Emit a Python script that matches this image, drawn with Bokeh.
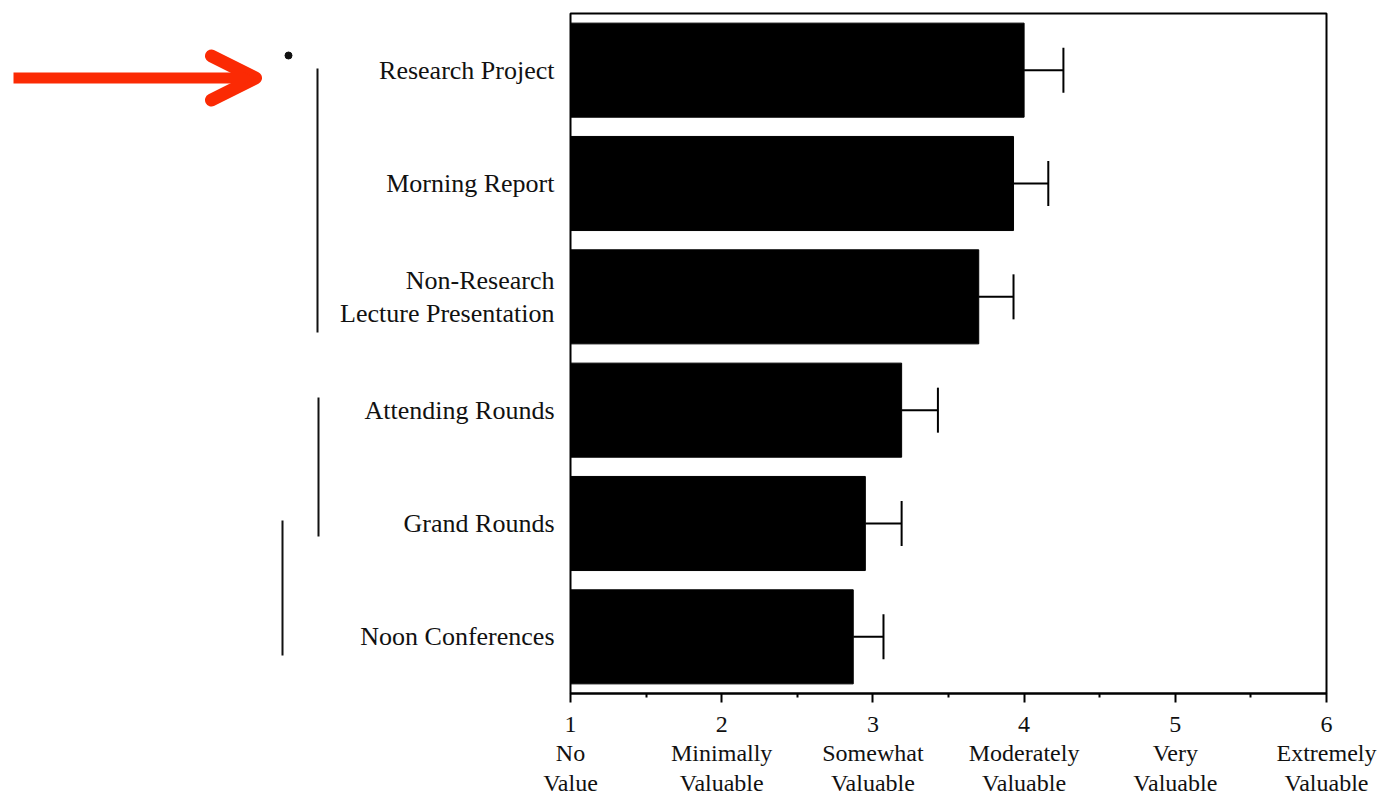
from bokeh.plotting import figure
from bokeh.layouts import row
from bokeh.models import (ColumnDataSource, FactorRange, Range1d, FixedTicker,
                          Whisker, TeeHead, Arrow, OpenHead)
from bokeh.embed import file_html
from bokeh.resources import INLINE

# Mean perceived value of each teaching activity (top to bottom) with SEM
activities = ["Research Project", "Morning Report", "Non-Research\nLecture Presentation",
              "Attending Rounds", "Grand Rounds", "Noon Conferences"]
mean_value = [4.00, 3.93, 3.70, 3.19, 2.95, 2.87]
sem_value = [0.26, 0.23, 0.23, 0.24, 0.24, 0.20]

scale_ticks = [1, 2, 3, 4, 5, 6]
scale_labels = ["No\nValue", "Minimally\nValuable", "Somewhat\nValuable",
                "Moderately\nValuable", "Very\nValuable", "Extremely\nValuable"]

SERIF = "Liberation Serif"
INK = "#111111"
POINTER_RED = "#fb2a04"

W, H = 1381, 799
MARGIN_W = 330                      # left panel holding the margin marks
FRAME_L, FRAME_T, FRAME_W, FRAME_H = 570, 13, 756, 680

# ---------------------------------------------------------------- left margin
# The row aligns this panel's frame with the chart frame, so its y range is
# expressed in page pixels over the frame's vertical extent.
margin = figure(width=MARGIN_W, height=H,
                x_range=Range1d(0, MARGIN_W),
                y_range=Range1d(FRAME_T + FRAME_H, FRAME_T),
                x_axis_location=None, y_axis_location=None,
                output_backend="svg", toolbar_location=None, min_border=0)
margin.outline_line_color = None
margin.grid.visible = False
margin.background_fill_color = "white"
margin.border_fill_color = "white"

# significance brackets
margin.segment(x0=[317, 318, 282], y0=[68, 397, 520],
               x1=[317, 318, 282], y1=[332, 536, 655],
               line_color=INK, line_width=2)
margin.scatter(x=[288], y=[55], size=7, color=INK)

# red pointer
margin.add_layout(Arrow(x_start=13, y_start=77.5, x_end=255, y_end=77.5,
                        line_color=POINTER_RED, line_width=11,
                        end=OpenHead(size=44, line_color=POINTER_RED, line_width=13,
                                     line_cap="round", line_join="round")))

# ---------------------------------------------------------------- bar chart
source = ColumnDataSource(dict(
    activity=activities,
    mean=mean_value,
    upper=[m + s for m, s in zip(mean_value, sem_value)],
))

p = figure(
    width=W - MARGIN_W, height=H,
    x_range=Range1d(scale_ticks[0], scale_ticks[-1]),
    y_range=FactorRange(factors=activities[::-1]),
    output_backend="svg", toolbar_location=None,
    min_border_left=FRAME_L - MARGIN_W, min_border_top=FRAME_T,
    min_border_right=W - FRAME_L - FRAME_W,
    min_border_bottom=H - FRAME_T - FRAME_H,
)
p.background_fill_color = "white"
p.border_fill_color = "white"
p.outline_line_color = "black"
p.outline_line_width = 2
p.xgrid.visible = False
p.ygrid.visible = False

p.hbar(y="activity", left=scale_ticks[0], right="mean", height=0.83,
       source=source, fill_color="black", line_color="black")

p.add_layout(Whisker(
    base="activity", lower="mean", upper="upper", dimension="width",
    source=source, line_color="black", line_width=2,
    upper_head=TeeHead(size=45, line_color="black", line_width=2),
    lower_head=None,
))

# x axis: 6-point rating scale
xa = p.xaxis[0]
xa.ticker = FixedTicker(ticks=scale_ticks,
                        minor_ticks=[t + 0.5 for t in scale_ticks[:-1]])
xa.major_label_overrides = {t: f"{t}\n{lab}" for t, lab in zip(scale_ticks, scale_labels)}
xa.major_label_text_font = SERIF
xa.major_label_text_font_size = "24px"
xa.major_label_text_line_height = 1.15
xa.major_label_text_color = INK
xa.major_label_standoff = 8
xa.axis_line_color = "black"
xa.axis_line_width = 2
xa.major_tick_line_color = "black"
xa.major_tick_line_width = 2
xa.major_tick_out = 9
xa.major_tick_in = 0
xa.minor_tick_line_color = "black"
xa.minor_tick_line_width = 2
xa.minor_tick_out = 4
xa.minor_tick_in = 0

# y axis: activity names
ya = p.yaxis[0]
ya.axis_line_color = None
ya.major_tick_line_color = None
ya.minor_tick_line_color = None
ya.major_label_standoff = 10
ya.major_label_text_font = SERIF
ya.major_label_text_font_size = "26px"
ya.major_label_text_line_height = 1.15
ya.major_label_text_color = INK

layout = row(margin, p, spacing=0)

open("out.html", "w").write(file_html(layout, INLINE))
